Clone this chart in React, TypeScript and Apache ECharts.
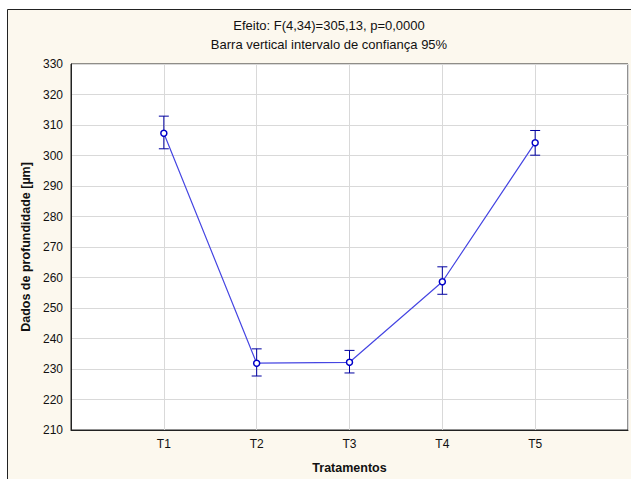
import React, { useEffect, useRef } from "react";
import * as echarts from "echarts";

const categories = ["T1", "T2", "T3", "T4", "T5"];
const means = [307.3, 231.9, 232.2, 258.6, 304.2];
const lower = [302.2, 227.7, 228.7, 254.5, 300.1];
const upper = [312.9, 236.6, 236.1, 263.5, 308.2];
const titleLines = ["Efeito: F(4,34)=305,13, p=0,0000", "Barra vertical intervalo de confiança 95%"];

export default function App() {
  const ref = useRef<HTMLDivElement>(null);
  useEffect(() => {
    if (!ref.current) return;
    const chart = echarts.init(ref.current, null, { renderer: "svg" });
    const font = "'Liberation Sans', Arial, sans-serif";
    const lineData = means.map((m, i) => [i + 1, m]);
    const errData = means.map((_, i) => [i + 1, lower[i], upper[i]]);
    chart.setOption({
      animation: false,
      backgroundColor: "#fcf8ee",
      textStyle: { fontFamily: font },
      grid: {
        left: 71,
        top: 64,
        right: 1,
        bottom: 48,
        show: true,
        backgroundColor: "#ffffff",
        borderColor: "#222",
        borderWidth: 1,
      },
      graphic: [
        { type: "rect", shape: { x: 0, y: 0, width: 631, height: 9 }, style: { fill: "#ffffff" }, silent: true },
        { type: "rect", shape: { x: 0, y: 0, width: 7, height: 479 }, style: { fill: "#ffffff" }, silent: true },
        { type: "line", shape: { x1: 7.5, y1: 9.5, x2: 631, y2: 9.5 }, style: { stroke: "#222", lineWidth: 1 } },
        { type: "line", shape: { x1: 7.5, y1: 9.5, x2: 7.5, y2: 479 }, style: { stroke: "#222", lineWidth: 1 } },
        {
          type: "text",
          x: 329,
          y: 25,
          style: { text: titleLines[0], fontSize: 13, fontFamily: font, fill: "#111", align: "center", verticalAlign: "middle" },
        },
        {
          type: "text",
          x: 329,
          y: 44,
          style: { text: titleLines[1], fontSize: 13, fontFamily: font, fill: "#111", align: "center", verticalAlign: "middle" },
        },
      ],
      xAxis: {
        type: "value",
        min: 0,
        max: 6,
        interval: 1,
        name: "Tratamentos",
        nameLocation: "middle",
        nameGap: 31,
        nameTextStyle: { fontWeight: "bold", fontSize: 12.5, color: "#111", fontFamily: font },
        axisLine: { show: true, lineStyle: { color: "#222" } },
        axisTick: { show: false },
        splitLine: { show: true, lineStyle: { color: "#d9d9d9" } },
        axisLabel: {
          fontSize: 12,
          color: "#111",
          margin: 8,
          formatter: (v: number) => categories[v - 1] ?? "",
        },
      },
      yAxis: {
        type: "value",
        min: 210,
        max: 330,
        interval: 10,
        name: "Dados de profundidade [µm]",
        nameLocation: "middle",
        nameGap: 38,
        nameTextStyle: { fontWeight: "bold", fontSize: 12.5, color: "#111", fontFamily: font },
        axisLine: { show: true, lineStyle: { color: "#222" } },
        axisTick: { show: false },
        splitLine: { show: true, lineStyle: { color: "#d9d9d9" } },
        axisLabel: { fontSize: 12, color: "#111", margin: 8 },
      },
      series: [
        {
          type: "line",
          data: lineData,
          symbol: "circle",
          symbolSize: 6,
          showSymbol: true,
          lineStyle: { color: "#4646e2", width: 1.2 },
          itemStyle: { color: "#ffffff", borderColor: "#0000c8", borderWidth: 1.5 },
          z: 3,
        },
        {
          type: "custom",
          data: errData,
          z: 2,
          renderItem: (params: any, api: any) => {
            const x = api.value(0);
            const lo = api.coord([x, api.value(1)]);
            const hi = api.coord([x, api.value(2)]);
            const cap = 5;
            const style = { stroke: "#0000a0", lineWidth: 1 };
            return {
              type: "group",
              children: [
                { type: "line", shape: { x1: lo[0], y1: lo[1], x2: hi[0], y2: hi[1] }, style },
                { type: "line", shape: { x1: lo[0] - cap, y1: lo[1], x2: lo[0] + cap, y2: lo[1] }, style },
                { type: "line", shape: { x1: hi[0] - cap, y1: hi[1], x2: hi[0] + cap, y2: hi[1] }, style },
              ],
            };
          },
        },
      ],
    });
    return () => chart.dispose();
  }, []);
  return (
    <div
      ref={ref}
      style={{ position: "fixed", left: 0, top: 0, width: 631, height: 479 }}
    />
  );
}
